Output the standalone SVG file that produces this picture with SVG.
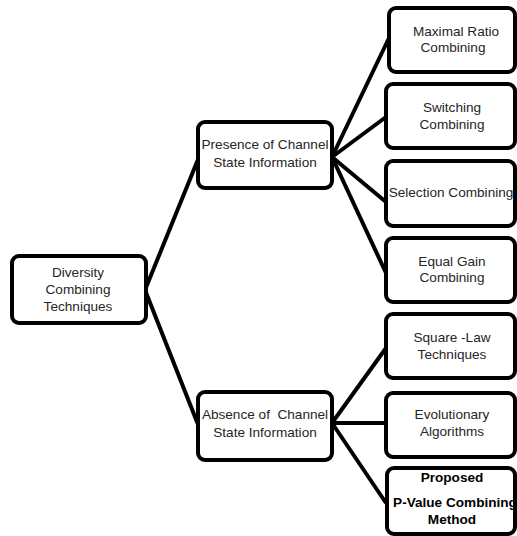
<svg xmlns="http://www.w3.org/2000/svg" width="517" height="536" viewBox="0 0 517 536">
<style>
.box{fill:#fff;stroke:#000;stroke-width:4}
.t{font-family:"Liberation Sans",Arial,sans-serif;font-size:13.6px;fill:#262626;text-anchor:middle}
.b{font-weight:bold;fill:#000}
.c{stroke:#000;stroke-width:4;fill:none}
</style>
<rect width="517" height="536" fill="#fff"/>
<g id="connectors">
<line class="c" x1="145" y1="290" x2="199" y2="157"/>
<line class="c" x1="145" y1="290" x2="199" y2="427"/>
<line class="c" x1="332" y1="157" x2="389" y2="38"/>
<line class="c" x1="332" y1="157" x2="386" y2="117"/>
<line class="c" x1="332" y1="157" x2="386" y2="202"/>
<line class="c" x1="332" y1="157" x2="386" y2="273"/>
<line class="c" x1="332" y1="423" x2="386" y2="348"/>
<line class="c" x1="332" y1="423" x2="386" y2="423"/>
<line class="c" x1="332" y1="423" x2="386" y2="503"/>
</g>
<g id="root">
<rect class="box" x="12" y="256" width="134" height="67" rx="7"/>
<text class="t" x="78" y="277">Diversity</text>
<text class="t" x="78" y="294">Combining</text>
<text class="t" x="78" y="311">Techniques</text>
</g>
<g id="presence">
<rect class="box" x="198" y="122" width="134" height="66" rx="7"/>
<text class="t" x="265" y="149">Presence of Channel</text>
<text class="t" x="265" y="167">State Information</text>
</g>
<g id="absence">
<rect class="box" x="198" y="392" width="134" height="68" rx="7"/>
<text class="t" x="265" y="419" style="white-space:pre">Absence of  Channel</text>
<text class="t" x="265" y="437">State Information</text>
</g>
<g id="mrc">
<rect class="box" x="389" y="8" width="126" height="64" rx="7"/>
<text class="t" x="456" y="36">Maximal Ratio</text>
<text class="t" x="453" y="52">Combining</text>
</g>
<g id="switching">
<rect class="box" x="386" y="84" width="129" height="64" rx="7"/>
<text class="t" x="452" y="112">Switching</text>
<text class="t" x="452" y="129">Combining</text>
</g>
<g id="selection">
<rect class="box" x="386" y="161" width="129" height="65" rx="7"/>
<text class="t" x="451" y="197">Selection Combining</text>
</g>
<g id="equal">
<rect class="box" x="386" y="238" width="129" height="64" rx="7"/>
<text class="t" x="452" y="266">Equal Gain</text>
<text class="t" x="452" y="282">Combining</text>
</g>
<g id="squarelaw">
<rect class="box" x="386" y="314" width="129" height="64" rx="7"/>
<text class="t" x="452" y="342">Square -Law</text>
<text class="t" x="452" y="359">Techniques</text>
</g>
<g id="evolutionary">
<rect class="box" x="386" y="393" width="129" height="64" rx="7"/>
<text class="t" x="452" y="419">Evolutionary</text>
<text class="t" x="452" y="436">Algorithms</text>
</g>
<g id="proposed">
<rect class="box" x="387" y="468" width="128" height="66" rx="7"/>
<text class="t b" x="452" y="482">Proposed</text>
<text class="t b" x="455" y="507">P-Value Combining</text>
<text class="t b" x="452" y="524">Method</text>
</g>
</svg>
